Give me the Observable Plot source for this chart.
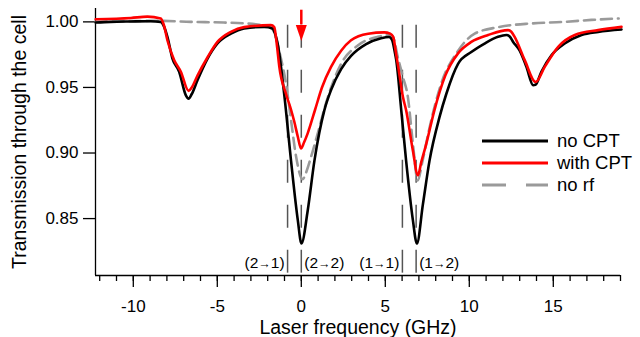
<!DOCTYPE html>
<html><head><meta charset="utf-8">
<script src="https://cdn.jsdelivr.net/npm/d3@7"></script>
<script src="https://cdn.jsdelivr.net/npm/@observablehq/plot@0.6"></script>
<style>body{margin:0;background:#fff}</style>
</head><body><div id="chart"></div>
<script>
// ---- data ----
const blackF = [-12.24,-11.35,-10.14,-8.96,-8.37,-8.19,-7.97,-7.67,-7.27,-6.87,-6.71,-6.52,-6.18,-5.58,-4.99,-4.19,-3.40,-2.21,-1.71,-1.54,-1.41,-1.01,-0.61,-0.21,0.01,0.38,0.78,1.37,1.77,2.37,2.96,3.86,4.75,5.23,5.41,5.55,5.65,5.95,6.24,6.64,6.88,7.24,7.63,8.23,8.63,9.33,10.12,10.91,11.71,12.21,12.39,12.61,13.00,13.40,13.80,13.94,14.29,14.89,15.68,16.68,17.67,19.06];
const blackT = [0.9995,1.0000,1.0003,1.0005,1.0000,0.997,0.9886,0.972,0.962,0.944,0.9415,0.945,0.9555,0.972,0.9835,0.991,0.995,0.9962,0.995,0.990,0.9835,0.944,0.894,0.849,0.831,0.856,0.894,0.9325,0.948,0.964,0.974,0.983,0.9875,0.9885,0.986,0.978,0.971,0.9326,0.894,0.849,0.831,0.861,0.894,0.9275,0.945,0.968,0.977,0.9835,0.9886,0.990,0.989,0.9847,0.978,0.9657,0.9517,0.952,0.962,0.9746,0.9835,0.990,0.9924,0.9942];

const redF = [-12.24,-10.14,-9.16,-8.37,-8.19,-7.97,-7.57,-7.17,-6.71,-6.52,-6.18,-5.58,-4.99,-4.19,-3.40,-1.81,-1.61,-1.45,-1.31,-0.91,-0.61,-0.42,-0.20,-0.02,0.16,0.38,0.82,1.23,1.77,2.37,2.96,3.98,4.93,5.29,5.47,5.65,5.77,6.05,6.24,6.64,6.94,7.14,7.44,7.91,8.57,9.33,10.12,11.12,12.31,12.50,12.70,13.30,13.95,14.49,15.29,16.28,17.67,19.06];
const redT = [1.002,1.003,1.004,1.0026,0.998,0.986,0.971,0.962,0.9474,0.950,0.959,0.973,0.9847,0.9924,0.996,0.9975,0.996,0.982,0.966,0.945,0.933,0.924,0.912,0.9035,0.908,0.915,0.933,0.950,0.9657,0.978,0.986,0.991,0.992,0.991,0.9886,0.975,0.9657,0.9427,0.9326,0.902,0.883,0.893,0.907,0.932,0.959,0.976,0.9847,0.990,0.9937,0.9925,0.9886,0.9708,0.9542,0.9657,0.981,0.990,0.9937,0.9962];

const grayF = [-12.24,-8.37,-6.58,-4.61,-2.60,-2.05,-1.69,-1.45,-1.21,-0.91,-0.61,-0.32,0.08,0.28,0.58,0.98,1.47,2.37,3.36,4.56,5.35,5.53,5.71,6.05,6.34,6.66,6.93,7.20,7.61,8.33,9.28,10.32,11.73,13.70,15.66,17.27,18.89];
const grayT = [1.000,1.0008,1.000,0.9995,0.998,0.997,0.994,0.985,0.972,0.953,0.925,0.898,0.880,0.885,0.897,0.915,0.938,0.968,0.982,0.9886,0.990,0.986,0.975,0.958,0.943,0.905,0.879,0.893,0.918,0.953,0.977,0.991,0.996,0.9988,1.000,1.0015,1.0026];

const seriesNames = ["no CPT", "with CPT", "no rf"];
const seriesColors = ["#000000", "#ff0000", "#9a9a9a"];

const transitionF = [-0.817, 0, 6.018, 6.835];
const transitionLabels = ["(2\u21921)", "(2\u21922)", "(1\u21921)", "(1\u21922)"];
const transitionSide = ["end", "start", "end", "start"];
const transitionTop = 0.9975;

const arrowF = [0];
const arrowFrom = 1.0089;
const arrowTo = 0.9977;

const xDomain = [-12.25, 19];
const yDomain = [0.8066, 1.0102];
const xMajorTicks = [-10, -5, 0, 5, 10, 15];
const xMinorTicks = d3.range(-12, 20, 1);
const yTicks = [0.85, 0.90, 0.95, 1.00];
const xTitle = "Laser frequency (GHz)";
const yTitle = "Transmission through the cell";

// ---- build ----
const rows = (f, t) => f.map((d, i) => ({f: d, t: t[i]}));
const black = rows(blackF, blackT), red = rows(redF, redT), gray = rows(grayF, grayT);
const trans = transitionF.map((f, i) => ({f, label: transitionLabels[i], side: transitionSide[i]}));
const FONT = "'Liberation Sans', Arial, Helvetica, sans-serif";
const hyphenFmt = d => (d < 0 ? "-" : "") + Math.abs(d);

const plot = Plot.plot({
  width: 640, height: 337,
  marginLeft: 95, marginRight: 20, marginTop: 8, marginBottom: 62,
  x: {domain: xDomain},
  y: {domain: yDomain},
  style: {fontFamily: FONT, fontSize: "17px", color: "#000", background: "#fff"},
  marks: [
    Plot.axisX({ticks: xMinorTicks, tickSize: 6, tickFormat: () => "", label: null, strokeWidth: 1.3}),
    Plot.axisX({ticks: xMajorTicks, tickSize: 12, tickPadding: 12, tickFormat: hyphenFmt, fontSize: 17, label: null, strokeWidth: 1.3}),
    Plot.axisY({ticks: yTicks, tickSize: 12, tickPadding: 5, tickFormat: d3.format(".2f"), fontSize: 17, label: null, strokeWidth: 1.3}),
    Plot.ruleX([xDomain[0]], {stroke: "#000", strokeWidth: 1.3}),
    Plot.ruleY([yDomain[0]], {stroke: "#000", strokeWidth: 1.3}),
    Plot.text([xTitle], {frameAnchor: "bottom", dy: 52, lineAnchor: "middle", textAnchor: "middle", fontSize: 19.5, text: d => d}),
    Plot.text([yTitle], {frameAnchor: "left", rotate: -90, dx: -76, lineAnchor: "middle", textAnchor: "middle", fontSize: 19.5, text: d => d}),
    // transition lines
    Plot.ruleX(trans, {x: "f", y1: () => transitionTop, y2: () => yDomain[0], stroke: "#555", strokeWidth: 1.5, strokeDasharray: "23,22"}),
    Plot.text(trans.filter(d => d.side === "end"), {x: "f", text: "label", frameAnchor: "bottom", dy: -8, dx: -3, textAnchor: "end", fontSize: 15.5, className: "tlabel"}),
    Plot.text(trans.filter(d => d.side === "start"), {x: "f", text: "label", frameAnchor: "bottom", dy: -8, dx: 3, textAnchor: "start", fontSize: 15.5, className: "tlabel"}),
    // curves
    Plot.line(gray, {x: "f", y: "t", stroke: seriesColors[2], strokeWidth: 2.6, strokeDasharray: "11,6", curve: "monotone-x"}),
    Plot.line(black, {x: "f", y: "t", stroke: seriesColors[0], strokeWidth: 2.6, curve: "monotone-x"}),
    Plot.line(red, {x: "f", y: "t", stroke: seriesColors[1], strokeWidth: 2.6, curve: "monotone-x"}),
    // arrow
    Plot.ruleX(arrowF, {x: d => d, y1: () => arrowFrom, y2: () => arrowTo, stroke: "#ff0000", strokeWidth: 2.5}),
    Plot.vector(arrowF, {x: d => d, y: () => arrowTo, rotate: 180, length: 16, r: 5.5, shape: "spike", anchor: "start", fill: "#ff0000", stroke: "none"})
  ]
});

// shrink the small arrow glyph inside transition labels
d3.select(plot).selectAll(".tlabel text").each(function() {
  const s = this.textContent;
  const k = s.indexOf("\u2192");
  if (k < 0) return;
  const t = d3.select(this);
  t.text(null);
  t.append("tspan").text(s.slice(0, k));
  t.append("tspan").attr("font-size", 12.5).attr("font-weight", "bold").text("\u2192");
  t.append("tspan").text(s.slice(k + 1));
});

// legend inside plot area
const svg = d3.select(plot);
const lg = svg.append("g").attr("font-family", FONT).attr("font-size", 18.5).attr("text-anchor", "start");
seriesNames.forEach((name, i) => {
  const y = 141 + i * 22;
  lg.append("line").attr("x1", 482).attr("x2", 548).attr("y1", y).attr("y2", y)
    .attr("stroke", seriesColors[i]).attr("stroke-width", 2.8)
    .attr("stroke-dasharray", i === 2 ? "24,20" : null);
  lg.append("text").attr("x", 557).attr("y", y).attr("dy", "0.35em").attr("fill", "#000").text(name);
});

document.getElementById("chart").appendChild(plot);
</script>
</body></html>
